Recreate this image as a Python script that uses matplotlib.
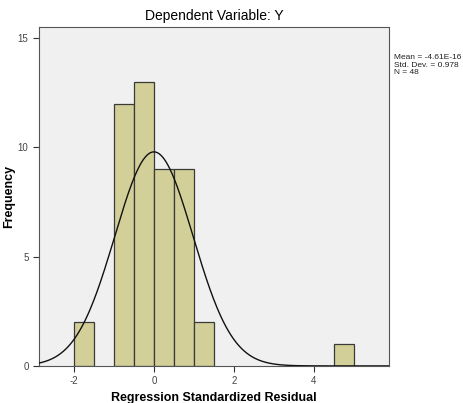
import numpy as np
import matplotlib

matplotlib.use('Agg')
from matplotlib import pyplot as plt

# histogram bins (left edges, width 0.5) and counts
bin_lefts = [-2.0, -1.0, -0.5, 0.0, 0.5, 1.0, 4.5]
counts = [2, 12, 13, 9, 9, 2, 1]
bin_width = 0.5
mean = -4.61e-16
std_dev = 0.978
n_obs = 48
x_ticks = [-2, 0, 2, 4]
y_ticks = [0, 5, 10, 15]

plt.rcParams['font.family'] = ['Liberation Sans', 'DejaVu Sans']
plt.rcParams['axes.unicode_minus'] = False

fig = plt.figure(figsize=(4.64, 4.03), dpi=100)
ax = fig.add_axes([0.084, 0.092, 0.754, 0.841])
ax.set_facecolor('#f0f0f0')

ax.bar(bin_lefts, counts, width=bin_width, align='edge',
       color='#d3cf98', edgecolor='#3a3a3a', linewidth=0.9, zorder=2)

# normal curve scaled to counts
xs = np.linspace(-2.875, 5.875, 400)
ys = n_obs * bin_width / (std_dev * np.sqrt(2 * np.pi)) * np.exp(-0.5 * ((xs - mean) / std_dev) ** 2)
ax.plot(xs, ys, color='#111111', linewidth=1.0, zorder=3)

ax.set_xlim(-2.875, 5.875)
ax.set_ylim(0, 15.5)
ax.set_xticks(x_ticks)
ax.set_yticks(y_ticks)
ax.tick_params(labelsize=7, colors='#333333', length=4, width=0.8, labelcolor='#444444')
for sp in ax.spines.values():
    sp.set_color('#555555')
    sp.set_linewidth(0.8)

ax.set_title('Dependent Variable: Y', fontsize=10, pad=5)
ax.set_xlabel('Regression Standardized Residual', fontsize=9, fontweight='bold', labelpad=4)
ax.set_ylabel('Frequency', fontsize=9, fontweight='bold')
ax.yaxis.set_label_coords(-0.068, 0.5)

fig.text(0.849, 0.865, 'Mean = -4.61E-16\nStd. Dev. = 0.978\nN = 48',
         fontsize=6.0, va='top', ha='left', linespacing=1.05, color='#222222')

fig.savefig('out.png', dpi=100)
